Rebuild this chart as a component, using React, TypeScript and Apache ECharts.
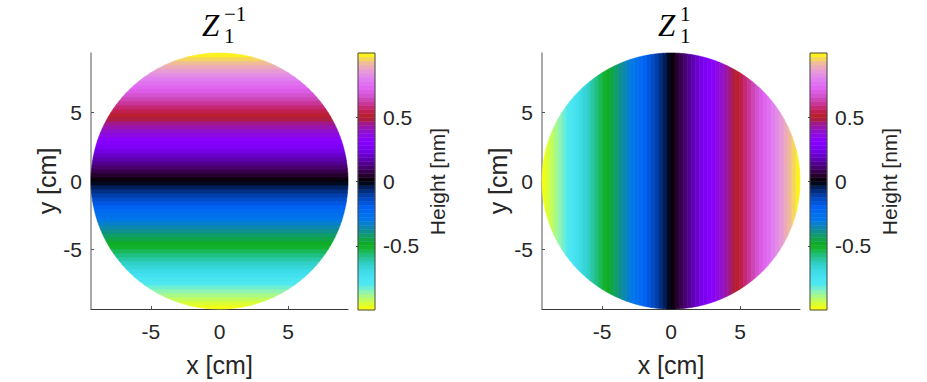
import React, { useEffect, useRef } from 'react';
import * as echarts from 'echarts';

// Aperture radius (cm) and axis ticks
const RADIUS = 9.35;
const xTicks = [-5, 0, 5];
const yTicks = [-5, 0, 5];
const colorbarTicks = [-0.5, 0, 0.5];
const heightMin = -1;
const heightMax = 1;
const LEVEL_COUNT = 64;

// Colormap anchors (position 0..1 along the colorbar, colour)
const colormapAnchors: [number, string][] = [
  [0.0, '#ffff00'],
  [0.035, '#c8ff50'],
  [0.07, '#90f4b0'],
  [0.1, '#50e8f0'],
  [0.14, '#40e0f0'],
  [0.18, '#30d0c8'],
  [0.21, '#20c088'],
  [0.25, '#10b018'],
  [0.285, '#10a060'],
  [0.31, '#108c98'],
  [0.35, '#0078e8'],
  [0.4, '#0062f4'],
  [0.44, '#0044b8'],
  [0.475, '#002060'],
  [0.5, '#000000'],
  [0.525, '#280030'],
  [0.555, '#480070'],
  [0.59, '#6000b8'],
  [0.625, '#7a00f0'],
  [0.66, '#8800ff'],
  [0.695, '#9010d0'],
  [0.725, '#a01890'],
  [0.75, '#b42020'],
  [0.775, '#c02050'],
  [0.8, '#c83090'],
  [0.83, '#d050c8'],
  [0.86, '#e060f0'],
  [0.9, '#e080f0'],
  [0.935, '#e8a0d0'],
  [0.965, '#f0c090'],
  [1.0, '#ffff00'],
];

// Colour levels of the colorbar (boundaries in nm)
const heightLevels: number[] = Array.from(
  { length: LEVEL_COUNT + 1 },
  (_, i) => heightMin + ((heightMax - heightMin) * i) / LEVEL_COUNT
);

// Panels: Zernike terms; Z_1^-1 varies with y, Z_1^1 varies with x
const panelTerms: { sup: string; axis: 'x' | 'y' }[] = [
  { sup: '\u22121', axis: 'y' },
  { sup: '1', axis: 'x' },
];

function hexToRgb(h: string) {
  return [parseInt(h.slice(1, 3), 16), parseInt(h.slice(3, 5), 16), parseInt(h.slice(5, 7), 16)];
}
function sampleColormap(t: number): string {
  for (let i = 0; i < colormapAnchors.length - 1; i++) {
    const [p0, c0] = colormapAnchors[i];
    const [p1, c1] = colormapAnchors[i + 1];
    if (t >= p0 && t <= p1) {
      const f = (t - p0) / (p1 - p0);
      const a = hexToRgb(c0);
      const b = hexToRgb(c1);
      const r = a.map((v, k) => Math.round(v + (b[k] - v) * f));
      return `rgb(${r[0]},${r[1]},${r[2]})`;
    }
  }
  return colormapAnchors[colormapAnchors.length - 1][1];
}
const colormap: string[] = Array.from({ length: LEVEL_COUNT }, (_, i) =>
  sampleColormap((i + 0.5) / LEVEL_COUNT)
);

const levelData = heightLevels.slice(0, -1).map((lo, i) => [lo, heightLevels[i + 1], i]);

const TEXT = '#262626';
const SANS = 'Liberation Sans, Arial, sans-serif';
const SERIF = '"Liberation Serif", "DejaVu Serif", serif';

const discRender = (axis: 'x' | 'y') => (_params: any, api: any) => {
  const lo = api.value(0) * RADIUS;
  const hi = api.value(1) * RADIUS;
  const idx = api.value(2);
  const steps = 14;
  const pts: number[][] = [];
  for (let k = 0; k <= steps; k++) {
    const t = lo + ((hi - lo) * k) / steps;
    const s = Math.sqrt(Math.max(0, RADIUS * RADIUS - t * t));
    pts.push(axis === 'y' ? api.coord([s, t]) : api.coord([t, s]));
  }
  for (let k = steps; k >= 0; k--) {
    const t = lo + ((hi - lo) * k) / steps;
    const s = Math.sqrt(Math.max(0, RADIUS * RADIUS - t * t));
    pts.push(axis === 'y' ? api.coord([-s, t]) : api.coord([t, -s]));
  }
  const c = colormap[idx];
  return { type: 'polygon', shape: { points: pts }, style: { fill: c, stroke: c, lineWidth: 0.7 } };
};

const barRender = (_params: any, api: any) => {
  const p0 = api.coord([0, api.value(0)]);
  const p1 = api.coord([1, api.value(1)]);
  const c = colormap[api.value(2)];
  return {
    type: 'rect',
    shape: { x: p0[0], y: p1[1], width: p1[0] - p0[0], height: p0[1] - p1[1] },
    style: { fill: c, stroke: c, lineWidth: 0.5 },
  };
};

export default function App() {
  const ref = useRef<HTMLDivElement>(null);
  useEffect(() => {
    document.body.style.margin = '0';
    if (!ref.current) return;
    const chart = echarts.init(ref.current, undefined, { renderer: 'svg' });

    const discLefts = [91, 542];
    const discWidths = [257, 258];
    const barLefts = [358, 810];
    const grids: any[] = [];
    const xAxes: any[] = [];
    const yAxes: any[] = [];
    const series: any[] = [];
    const graphics: any[] = [];

    panelTerms.forEach((term, p) => {
      const gDisc = grids.length;
      grids.push({ left: discLefts[p], top: 53, width: discWidths[p], height: 257, containLabel: false });
      xAxes.push({
        gridIndex: gDisc, type: 'value', min: -RADIUS, max: RADIUS,
        name: 'x [cm]', nameLocation: 'middle', nameGap: 43,
        nameTextStyle: { fontFamily: SANS, fontSize: 25, color: TEXT },
        axisLine: { show: true, onZero: false, lineStyle: { color: '#3a3a3a', width: 1 } },
        axisTick: { show: true, inside: true, length: 3, customValues: xTicks, lineStyle: { color: '#555' } },
        axisLabel: { show: true, customValues: xTicks, margin: 12, fontFamily: SANS, fontSize: 21, color: TEXT },
        splitLine: { show: false },
      });
      yAxes.push({
        gridIndex: gDisc, type: 'value', min: -RADIUS, max: RADIUS,
        name: 'y [cm]', nameLocation: 'middle', nameGap: 31, nameRotate: 90,
        nameTextStyle: { fontFamily: SANS, fontSize: 25, color: TEXT },
        axisLine: { show: true, onZero: false, lineStyle: { color: '#8c8c8c', width: 1.5 } },
        axisTick: { show: true, inside: true, length: 3, customValues: yTicks, lineStyle: { color: '#555' } },
        axisLabel: { show: true, customValues: yTicks, margin: 9, fontFamily: SANS, fontSize: 21, color: TEXT },
        splitLine: { show: false },
      });
      series.push({
        type: 'custom', xAxisIndex: gDisc, yAxisIndex: gDisc,
        renderItem: discRender(term.axis), data: levelData, clip: false, silent: true,
      });

      const gBar = grids.length;
      grids.push({
        left: barLefts[p], top: 53, width: 17, height: 257, show: true, z: 5,
        backgroundColor: 'transparent', borderColor: '#4a4a4a', borderWidth: 1,
      });
      xAxes.push({ gridIndex: gBar, type: 'value', min: 0, max: 1, show: false });
      yAxes.push({
        gridIndex: gBar, type: 'value', min: heightMin, max: heightMax, position: 'right',
        name: 'Height [nm]', nameLocation: 'middle', nameGap: 52, nameRotate: 90,
        nameTextStyle: { fontFamily: SANS, fontSize: 21, color: TEXT },
        axisLine: { show: false },
        axisTick: { show: true, inside: true, length: 2, customValues: colorbarTicks, lineStyle: { color: '#444' } },
        axisLabel: { show: true, customValues: colorbarTicks, margin: 8, fontFamily: SANS, fontSize: 21, color: TEXT },
        splitLine: { show: false },
      });
      series.push({
        type: 'custom', xAxisIndex: gBar, yAxisIndex: gBar,
        renderItem: barRender, data: levelData, clip: false, silent: true,
      });
    });

    // Titles  Z_1^{-1} and Z_1^{1}
    const titlePos = [
      { zx: 202, sx: 224 },
      { zx: 658, sx: 680 },
    ];
    panelTerms.forEach((term, p) => {
      const { zx, sx } = titlePos[p];
      graphics.push(
        { type: 'text', left: zx, top: 10, style: { text: 'Z', font: `italic 31px ${SERIF}`, fill: '#000' } },
        { type: 'text', left: sx, top: 3, style: { text: term.sup, font: `21px ${SERIF}`, fill: '#000' } },
        { type: 'text', left: sx, top: 25, style: { text: '1', font: `21px ${SERIF}`, fill: '#000' } }
      );
    });

    chart.setOption({
      animation: false,
      backgroundColor: '#ffffff',
      grid: grids,
      xAxis: xAxes,
      yAxis: yAxes,
      series,
      graphic: graphics,
    });
    return () => chart.dispose();
  }, []);
  return <div ref={ref} style={{ width: 927, height: 382 }} />;
}
